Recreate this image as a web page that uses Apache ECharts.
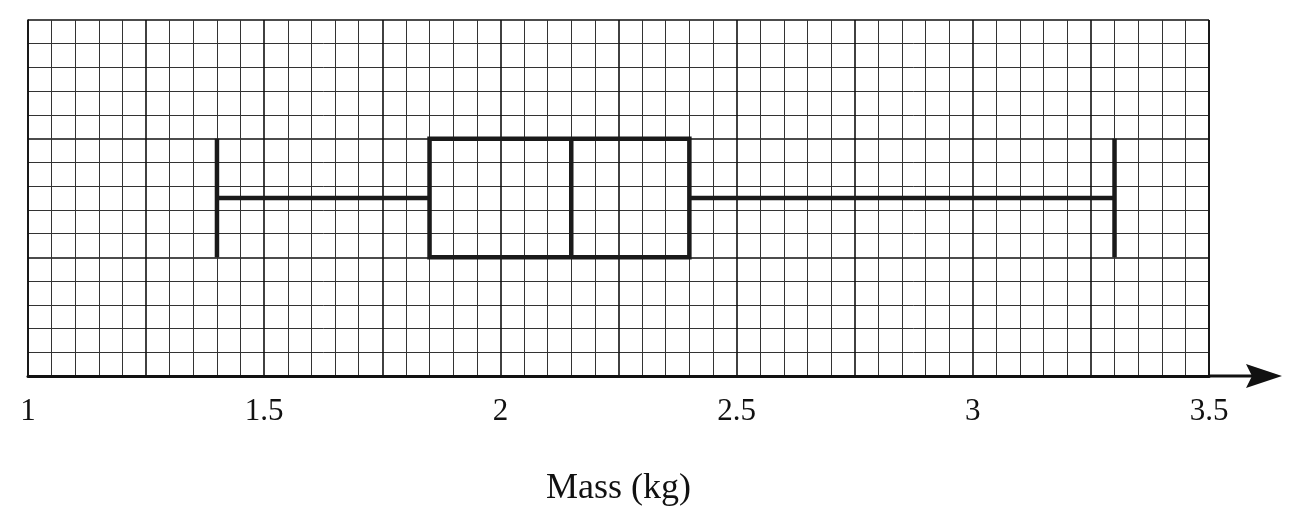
<!DOCTYPE html>
<html><head><meta charset="utf-8">
<script src="https://cdn.jsdelivr.net/npm/echarts@6/dist/echarts.min.js"></script>
<style>html,body{margin:0;background:#fff}#c{width:1301px;height:524px}</style>
</head><body><div id="c"></div>
<script>
const boxStats = [1.4, 1.85, 2.15, 2.4, 3.3]; // min, Q1, median, Q3, max
const boxCenterY = [7.5];
const boxHalfHeight = [2.5];
const xTickLabels = ['1','1.5','2','2.5','3','3.5'];

const chart = echarts.init(document.getElementById('c'));
chart.setOption({
  animation:false,
  grid:{left:28,right:92,top:20,bottom:148},
  xAxis:{type:'value',min:1,max:3.5,interval:0.25,
    axisLine:{show:true,lineStyle:{color:'#111',width:3}},
    axisTick:{show:false},
    axisLabel:{margin:20,color:'#111',fontFamily:'Liberation Serif',fontSize:31,
      formatter:v=>{const s=String(+v.toFixed(2));return xTickLabels.includes(s)?s:'';}},
    splitLine:{show:true,lineStyle:{color:'#111',width:1.6}},
    minorTick:{show:false,splitNumber:5},
    minorSplitLine:{show:true,lineStyle:{color:'#333',width:1}},
    name:'Mass (kg)',nameLocation:'middle',nameGap:95,
    nameTextStyle:{color:'#111',fontFamily:'Liberation Serif',fontSize:36}},
  yAxis:{type:'value',min:0,max:15,interval:5,
    axisLine:{show:true,lineStyle:{color:'#111',width:1.6}},
    axisTick:{show:false},axisLabel:{show:false},
    splitLine:{show:true,lineStyle:{color:'#111',width:1.6}},
    minorTick:{show:false,splitNumber:5},
    minorSplitLine:{show:true,lineStyle:{color:'#333',width:1}}},
  graphic:[
    {type:'line',shape:{x1:1209,y1:376,x2:1262,y2:376},style:{stroke:'#111',lineWidth:3}},
    {type:'polygon',shape:{points:[[1282,376],[1246,364],[1252,376],[1246,388]]},style:{fill:'#111'}},
    {type:'line',shape:{x1:1209,y1:20,x2:1209,y2:376},style:{stroke:'#111',lineWidth:1.6}}
  ],
  series:[{type:'custom',data:[boxStats.concat(boxCenterY,boxHalfHeight)],
    renderItem:(params,api)=>{
      const mn=api.value(0),q1=api.value(1),md=api.value(2),q3=api.value(3),mx=api.value(4),cy=api.value(5),h=api.value(6);
      const P=(x,y)=>api.coord([x,y]);
      const st={stroke:'#1a1a1a',lineWidth:4.5,fill:null};
      const L=(a,b)=>({type:'line',shape:{x1:a[0],y1:a[1],x2:b[0],y2:b[1]},style:st});
      const tl=P(q1,cy+h),br=P(q3,cy-h);
      return {type:'group',children:[
        {type:'rect',shape:{x:tl[0],y:tl[1],width:br[0]-tl[0],height:br[1]-tl[1]},style:st},
        L(P(md,cy+h),P(md,cy-h)),
        L(P(mn,cy),P(q1,cy)),L(P(q3,cy),P(mx,cy)),
        L(P(mn,cy+h),P(mn,cy-h)),L(P(mx,cy+h),P(mx,cy-h))
      ]};
    }}]
});
</script></body></html>
